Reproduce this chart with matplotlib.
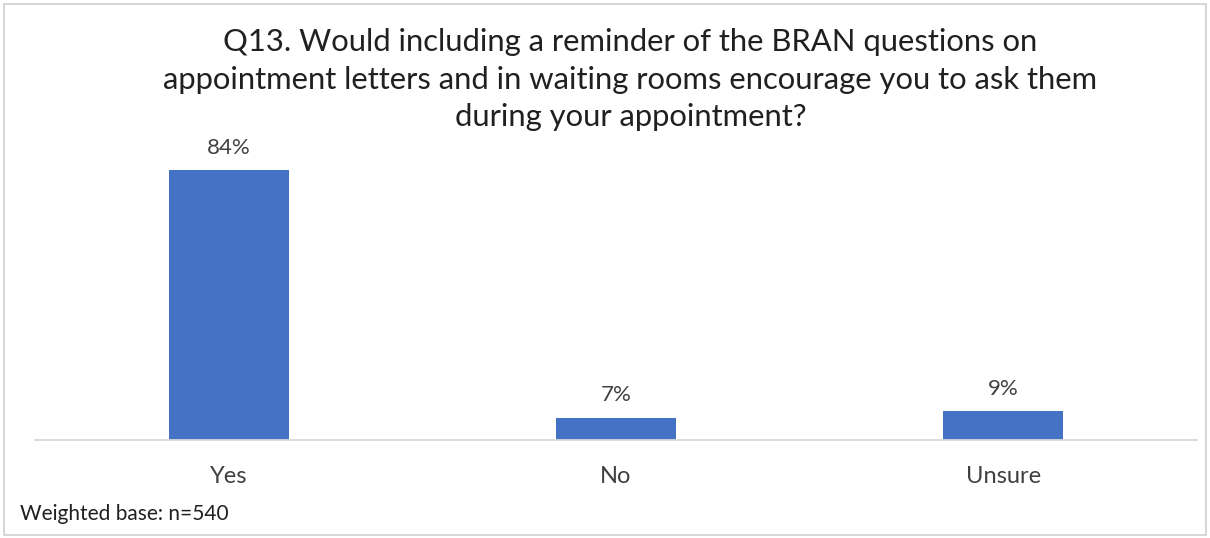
import matplotlib
matplotlib.use("Agg")
import matplotlib.pyplot as plt
import matplotlib.patches as mpatches

categories = ["Yes", "No", "Unsure"]
values = [84, 7, 9]
labels = ["84%", "7%", "9%"]
title = ("Q13. Would including a reminder of the BRAN questions on\n"
         "appointment letters and in waiting rooms encourage you to ask them\n"
         "during your appointment?")
footnote = "Weighted base: n=540"

plt.rcParams['font.family'] = ['Lato', 'DejaVu Sans']

fig = plt.figure(figsize=(12.1, 5.38), dpi=100)
ax = fig.add_axes([0.0289, 0.182, 0.9603, 0.558])

x = list(range(len(categories)))
ax.bar(x, values, width=0.31, color='#4472C4')
for xi, v, lab in zip(x, values, labels):
    ax.text(xi, v + 3.8, lab, ha='center', va='bottom', fontsize=16, color='#404040')

ax.set_xlim(-0.5, 2.5)
ax.set_ylim(0, 93.3)
ax.set_xticks(x)
ax.set_xticklabels(categories, fontsize=17, color='#404040')
ax.tick_params(axis='x', length=0, pad=19)
ax.set_yticks([])
for s in ['top', 'right', 'left']:
    ax.spines[s].set_visible(False)
ax.spines['bottom'].set_color('#D9D9D9')
ax.spines['bottom'].set_linewidth(1.3)

fig.text(0.521, 0.948, title, ha='center', va='top', fontsize=22.3,
         color='#202020', linespacing=1.42)
fig.text(0.0165, 0.045, footnote, ha='left', va='center', fontsize=15, color='#202020')

border = mpatches.Rectangle((0.003, 0.006), 0.994, 0.987, transform=fig.transFigure,
                            fill=False, edgecolor='#D0D0D0', linewidth=1.2)
fig.patches.append(border)

plt.savefig("out.png", dpi=100)
